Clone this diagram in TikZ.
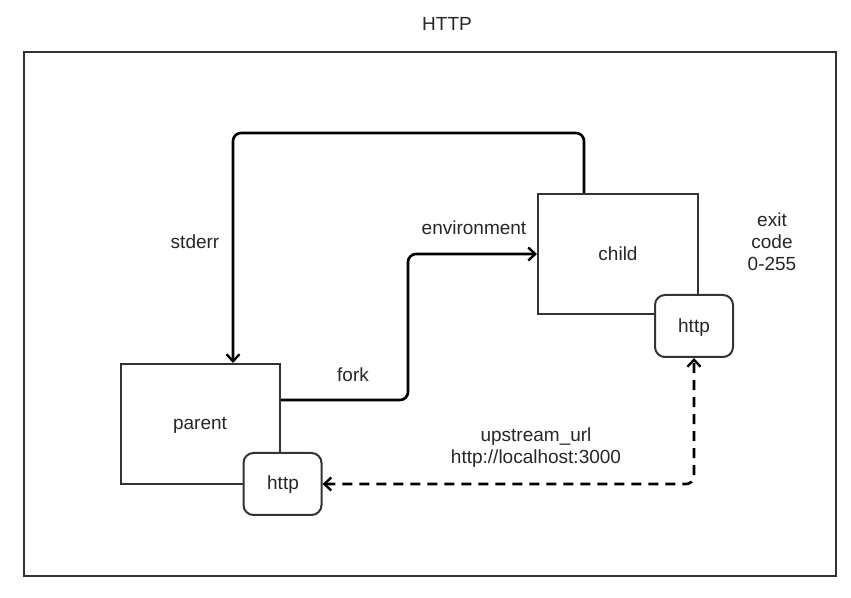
\documentclass[tikz,border=0pt]{standalone}
\usepackage{fontspec}
\setmainfont{Liberation Sans}
\usetikzlibrary{arrows.meta}

\tikzset{
  box/.style={draw=black!80, line width=2pt, minimum width=159pt, minimum height=120pt, inner sep=0pt},
  httpbox/.style={draw=black!80, fill=white, line width=2pt, rounded corners=10pt, minimum width=78pt, minimum height=62pt, inner sep=0pt},
  flow/.style={draw=black, line width=2.6pt, rounded corners=8pt, -{Straight Barb[length=7pt,width=13pt,line width=2.4pt]}},
  dashflow/.style={draw=black, line width=2.6pt, rounded corners=8pt, dash pattern=on 10pt off 7pt, {Straight Barb[length=7pt,width=13pt,line width=2.4pt]}-{Straight Barb[length=7pt,width=13pt,line width=2.4pt]}},
  lbl/.style={font=\fontsize{19}{22}\selectfont, text=black!85, align=center, inner sep=0pt}
}

\begin{document}
\begin{tikzpicture}[x=1pt,y=1pt]
				\useasboundingbox (0,0) rectangle (851,597);
				
				% frame and title
				\draw[black!80, line width=1.4pt] (24,21) rectangle (836,545);
				\node[lbl] (title) at (447,573) {HTTP};
				
				% processes
				\node[box] (parent) at (200.5,173) {};
				\node[lbl] (parenttxt) at (200,172) {parent};
				\node[httpbox] (phttp) at (282.5,113) {};
				\node[lbl] (phttptxt) at (283,112) {http};
				
				\node[box, minimum width=160pt] (child) at (618,343) {};
				\node[lbl] (childtxt) at (618,343) {child};
				\node[httpbox] (chttp) at (694,271) {};
				\node[lbl] (chttptxt) at (694,269) {http};
				
				% connectors
				\coordinate (top) at (233,464);
				\draw[flow] ([xshift=-34pt]child.north) |- (top) -- ([xshift=32.5pt]parent.north);
				\draw[flow] ([yshift=24pt]parent.east) -| (408,270) |- (child.west);
				\draw[dashflow] (phttp.east) -| (chttp.south);
				
				% labels
				\node[lbl] (stderr) at (195,355) {stderr};
				\node[lbl] (fork) at (353,222) {fork};
				\node[lbl] (env) at (474,369) {environment};
				\node[lbl] (exit) at (772,355.5) {exit\\code\\0-255};
				\node[lbl] (upstream) at (536,149.5) {upstream\_url\\http://localhost:3000};
			\end{tikzpicture}
\end{document}
